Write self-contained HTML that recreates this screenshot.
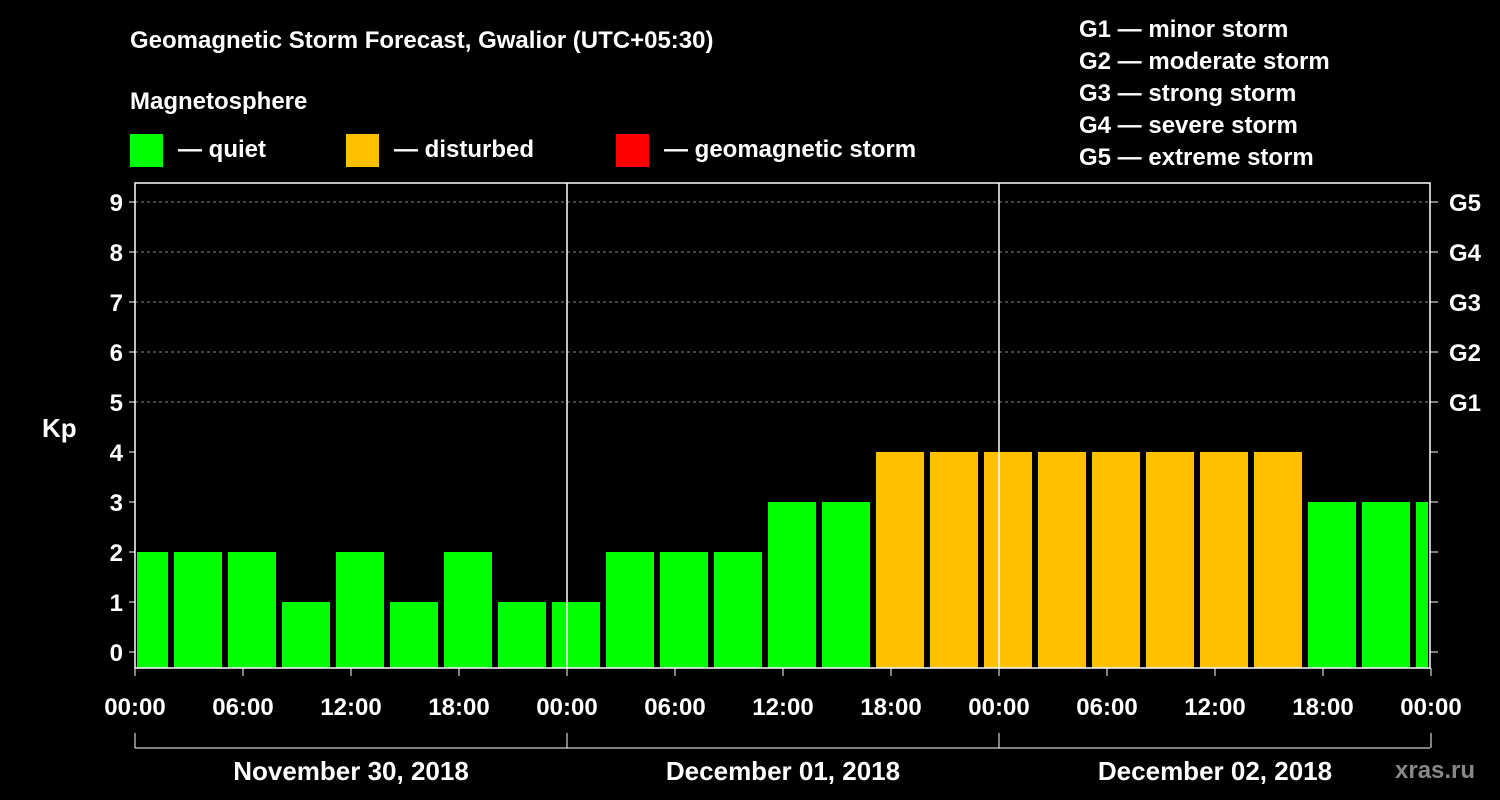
<!DOCTYPE html>
<html><head><meta charset="utf-8"><style>
body{margin:0;background:#000;}
svg{display:block;font-family:"Liberation Sans",Arial,sans-serif;font-weight:bold;}
</style></head><body>
<svg id="chart" width="1500" height="800" viewBox="0 0 1500 800">
<rect width="1500" height="800" fill="#000"/>
<text x="130" y="48" fill="#fff" font-size="24">Geomagnetic Storm Forecast, Gwalior (UTC+05:30)</text>
<text x="130" y="109" fill="#fff" font-size="24">Magnetosphere</text>
<g><rect x="130" y="134" width="33" height="33" fill="#00ff00"/><text x="178" y="157" fill="#fff" font-size="24">— quiet</text></g>
<g><rect x="346" y="134" width="33" height="33" fill="#ffc000"/><text x="394" y="157" fill="#fff" font-size="24">— disturbed</text></g>
<g><rect x="616" y="134" width="33" height="33" fill="#ff0000"/><text x="664" y="157" fill="#fff" font-size="24">— geomagnetic storm</text></g>
<g fill="#fff" font-size="24">
<text x="1079" y="37">G1 — minor storm</text><text x="1079" y="69">G2 — moderate storm</text><text x="1079" y="101">G3 — strong storm</text><text x="1079" y="133">G4 — severe storm</text><text x="1079" y="165">G5 — extreme storm</text></g>
<text x="42" y="437" fill="#fff" font-size="26">Kp</text>
<text x="1395" y="778" fill="#888" font-size="24">xras.ru</text>
<g id="plot"></g>
</svg>
<script>
const kpValues=[2,2,2,1,2,1,2,1,1,2,2,2,3,3,4,4,4,4,4,4,4,4,3,3,3];
const yTicks=[0,1,2,3,4,5,6,7,8,9];
const gLabels=["","","","","","G1","G2","G3","G4","G5"];
const xTickLabels=["00:00","06:00","12:00","18:00","00:00","06:00","12:00","18:00","00:00","06:00","12:00","18:00","00:00"];
const dayLabels=["November 30, 2018","December 01, 2018","December 02, 2018"];
const L=135,R=1430,T=183,B=668;
const NS="http://www.w3.org/2000/svg";
const g=document.getElementById('plot');
const y=v=>652-v*50;
const x=h=>L+h*18; // hours since start
function mk(t,a){const e=document.createElementNS(NS,t);for(const k in a)e.setAttribute(k,a[k]);g.appendChild(e);return e;}
// grid
yTicks.forEach(v=>{if(v>=5){const l=mk('line',{x1:L,x2:R,y1:y(v),y2:y(v),stroke:'#888','stroke-dasharray':'3,3','stroke-width':1});

}});
// bars
kpValues.forEach((v,i)=>{let s=x(2+3*(i-1))+3,e=x(2+3*i)-3;if(s<L+2)s=L+2;if(e>R-2)e=R-2;
const r=mk('rect',{x:s,y:y(v),width:e-s,height:B-y(v),fill:v>=5?'#ff0000':(v>=4?'#ffc000':'#00ff00')});

});
// day separators
[1,2].forEach(d=>{const l=mk('line',{x1:x(24*d),x2:x(24*d),y1:T,y2:B,stroke:'#fff','stroke-width':1.5});

});
// frame
const f=mk('rect',{x:L,y:T,width:R-L,height:B-T,fill:'none',stroke:'#fff','stroke-width':1.5});


// y ticks
yTicks.forEach((v,i)=>{mk('line',{x1:L-6,x2:L,y1:y(v),y2:y(v),stroke:'#fff'});mk('line',{x1:R,x2:R+8,y1:y(v),y2:y(v),stroke:'#fff'});
const t=mk('text',{x:L-12,y:y(v)+9,fill:'#fff','font-size':24,'text-anchor':'end'});t.textContent=v;


if(gLabels[i]){const t2=mk('text',{x:R+19,y:y(v)+9,fill:'#fff','font-size':24});t2.textContent=gLabels[i];

}});
// x ticks
xTickLabels.forEach((s,i)=>{const px=x(i*6);mk('line',{x1:px,x2:px,y1:B,y2:B+8,stroke:'#fff'});
const t=mk('text',{x:px,y:715,fill:'#fff','font-size':24,'text-anchor':'middle'});t.textContent=s;

});
// day bracket
mk('line',{x1:L,x2:R,y1:748,y2:748,stroke:'#fff'});
[0,1,2,3].forEach(d=>mk('line',{x1:x(24*d),x2:x(24*d),y1:733,y2:748,stroke:'#fff'}));
dayLabels.forEach((s,d)=>{const t=mk('text',{x:x(24*d+12),y:780,fill:'#fff','font-size':26,'text-anchor':'middle'});t.textContent=s;

});
</script>
</body></html>
